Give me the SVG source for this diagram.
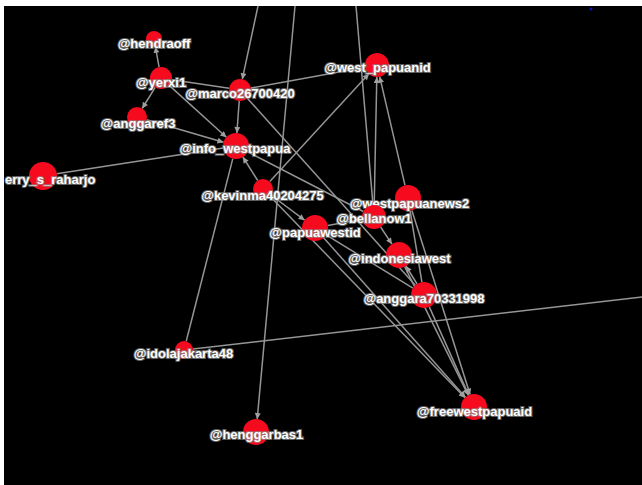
<svg xmlns="http://www.w3.org/2000/svg" width="642" height="485" viewBox="0 0 642 485">
<style>
.e{stroke:#959595;stroke-width:1.5;fill:none}
.a{marker-end:url(#arr)}
.n{fill:#f50a1e}
.t{font-family:"Liberation Sans",Arial,sans-serif;font-weight:bold;font-size:13px;fill:#ffffff;stroke:#8a8a8a;stroke-width:2.2;stroke-opacity:0.7;paint-order:stroke;text-anchor:middle}
</style>
<defs>
<marker id="arr" viewBox="0 0 10 10" refX="10" refY="5" markerWidth="8" markerHeight="6" markerUnits="userSpaceOnUse" orient="auto">
<path d="M0,0 L10,5 L0,10 z" fill="#a0a0a0"/>
</marker>
</defs>
<rect x="0" y="0" width="642" height="485" fill="#ffffff"/>
<rect x="4" y="6" width="638" height="479" fill="#000000"/>
<circle cx="591" cy="9" r="1.6" fill="#1010b0"/>
<g id="connectors">
<line class="e a" x1="159.1" y1="67.2" x2="155.4" y2="46.9"/>
<line class="e a" x1="155.2" y1="87.4" x2="142.2" y2="108.5"/>
<line class="e a" x1="169.2" y1="85.4" x2="226.4" y2="137.3"/>
<line class="e" x1="171.9" y1="79.7" x2="229.1" y2="88.3"/>
<line class="e a" x1="258" y1="6" x2="242.3" y2="79.2"/>
<line class="e a" x1="239.2" y1="101" x2="236.9" y2="133"/>
<line class="e" x1="250.8" y1="88" x2="365.2" y2="67.2"/>
<line class="e a" x1="146.6" y1="119.8" x2="223.5" y2="142.3"/>
<line class="e" x1="56.8" y1="173.8" x2="223.2" y2="148"/>
<line class="e a" x1="257.7" y1="180.5" x2="242.9" y2="157"/>
<line class="e" x1="186.2" y1="341.3" x2="232.8" y2="158.6"/>
<line class="e a" x1="269.8" y1="181.6" x2="368.9" y2="73.8"/>
<line class="e a" x1="271" y1="195" x2="304.6" y2="220.2"/>
<line class="e a" x1="270" y1="196.2" x2="465" y2="397.7"/>
<line class="e" x1="247.6" y1="151.9" x2="363.3" y2="211.5"/>
<line class="e" x1="247.3" y1="98.2" x2="415.3" y2="285.3"/>
<line class="e a" x1="295" y1="6" x2="257.2" y2="419.1"/>
<line class="e" x1="356" y1="6" x2="373" y2="205"/>
<line class="e a" x1="374.2" y1="205" x2="376.8" y2="77"/>
<line class="e a" x1="405" y1="185.3" x2="379.7" y2="76.7"/>
<line class="e" x1="410.1" y1="210.8" x2="421.9" y2="282.2"/>
<line class="e a" x1="380.6" y1="227" x2="391.9" y2="244.1"/>
<line class="e a" x1="417.1" y1="284" x2="405.9" y2="266"/>
<line class="e" x1="326.1" y1="234.8" x2="412.9" y2="288.2"/>
<line class="e" x1="327.8" y1="225.6" x2="362.2" y2="219.2"/>
<line class="e a" x1="323.6" y1="237.7" x2="465.4" y2="397.3"/>
<line class="e a" x1="404.7" y1="266.7" x2="468.3" y2="395.3"/>
<line class="e a" x1="429.3" y1="306.9" x2="468.7" y2="395.1"/>
<line class="e a" x1="411.9" y1="210.4" x2="470.1" y2="394.6"/>
<line class="e" x1="193" y1="349" x2="642" y2="297"/>
</g>
<g id="n_erry"><circle class="n" cx="43" cy="176" r="14"/><text class="t" x="5" y="183.5" style="text-anchor:start">erry_s_raharjo</text></g>
<g id="n_hendraoff"><circle class="n" cx="154" cy="39" r="8"/><text class="t" x="154" y="47.5">@hendraoff</text></g>
<g id="n_yerxi1"><circle class="n" cx="161" cy="78" r="11"/><text class="t" x="161" y="86.5">@yerxi1</text></g>
<g id="n_marco"><circle class="n" cx="240" cy="90" r="11"/><text class="t" x="240" y="97.5">@marco26700420</text></g>
<g id="n_anggaref3"><circle class="n" cx="137" cy="117" r="10"/><text class="t" x="138" y="127.5">@anggaref3</text></g>
<g id="n_info"><circle class="n" cx="236" cy="146" r="13"/><text class="t" x="235" y="152.5">@info_westpapua</text></g>
<g id="n_kevinma"><circle class="n" cx="263" cy="189" r="10"/><text class="t" x="262.5" y="199.5">@kevinma40204275</text></g>
<g id="n_papuawestid"><circle class="n" cx="315" cy="228" r="13"/><text class="t" x="315" y="236.5">@papuawestid</text></g>
<g id="n_west_papuanid"><circle class="n" cx="377" cy="65" r="12"/><text class="t" x="377.5" y="71.5">@west_papuanid</text></g>
<g id="n_westpapuanews2"><circle class="n" cx="408" cy="198" r="13"/><text class="t" x="409.5" y="207.5">@westpapuanews2</text></g>
<g id="n_bellanow1"><circle class="n" cx="374" cy="217" r="12"/><text class="t" x="374" y="222.5">@bellanow1</text></g>
<g id="n_indonesiawest"><circle class="n" cx="399" cy="255" r="13"/><text class="t" x="399.5" y="262.5">@indonesiawest</text></g>
<g id="n_anggara"><circle class="n" cx="424" cy="295" r="13"/><text class="t" x="424" y="302.5">@anggara70331998</text></g>
<g id="n_idola"><circle class="n" cx="184" cy="350" r="9"/><text class="t" x="183.5" y="357.5">@idolajakarta48</text></g>
<g id="n_henggarbas1"><circle class="n" cx="256" cy="432" r="13"/><text class="t" x="256.5" y="438.5">@henggarbas1</text></g>
<g id="n_freewest"><circle class="n" cx="474" cy="407" r="13"/><text class="t" x="474.5" y="415.5">@freewestpapuaid</text></g>
</svg>
